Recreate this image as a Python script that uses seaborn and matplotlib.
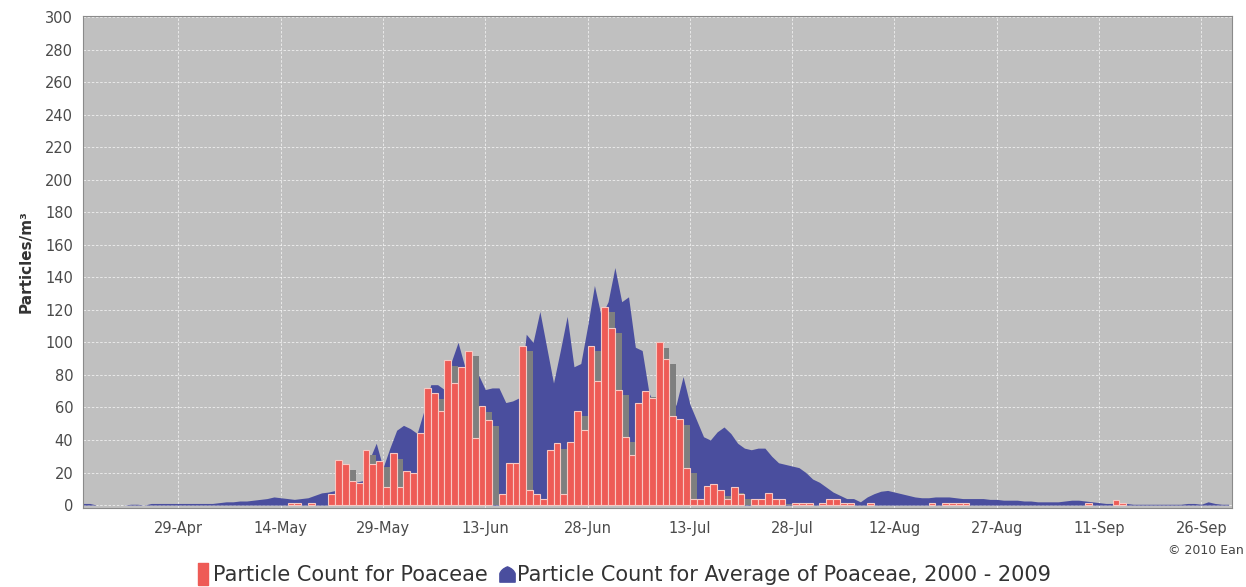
import numpy as np
import pandas as pd
import matplotlib
matplotlib.use("Agg")
import matplotlib.pyplot as plt
import seaborn as sns
from matplotlib.lines import Line2D
from matplotlib.path import Path

# day 0 = 15-Apr, one value per day
avg_counts = [
    1, 1, 0, 0, 0, 0, 0, 0.5, 0.5, 0,
    1, 1, 1, 1, 1, 1, 1, 1, 1, 1,
    1.5, 2, 2, 2.5, 2.5, 3, 3.5, 4, 5, 4.5,
    4, 3.5, 4, 4.5, 6, 7.5, 8, 9, 10, 12,
    14, 15, 28, 38, 23, 35, 46, 49, 47, 44,
    58, 74, 74, 71, 88, 100, 85, 93, 80, 71,
    72, 72, 63, 64, 66, 105, 100, 119, 97, 75,
    95, 116, 85, 87, 110, 135, 116, 125, 146, 125,
    128, 97, 95, 69, 60, 58, 54, 62, 79, 62,
    52, 42, 40, 45, 48, 44, 38, 35, 34, 35,
    35, 30, 26, 25, 24, 23, 20, 16, 14, 11,
    8, 6, 4, 4, 2, 5, 7, 8.5, 9, 8,
    7, 6, 5, 4.5, 4.5, 5, 5, 5, 4.5, 4,
    4, 4, 4, 3.5, 3.5, 3, 3, 3, 2.5, 2.5,
    2, 2, 2, 2, 2.5, 3, 3, 2.5, 2, 1.5,
    1, 1, 1, 1, 0.5, 0.5, 0.5, 0.5, 0.5, 0.5,
    0.5, 0.5, 1, 1, 0.5, 2, 1, 0.5, 0.5,
]

daily_counts = {
    30: 1, 31: 1, 33: 1.5,
    36: 7, 37: 28, 38: 25, 39: 15, 40: 13.5, 41: 34, 42: 25, 43: 27, 44: 11,
    45: 32, 46: 11, 47: 21, 48: 20, 49: 44, 50: 72, 51: 69, 52: 58, 53: 89,
    54: 75, 55: 85, 56: 95, 57: 41, 58: 61, 59: 52, 61: 7, 62: 26, 63: 26,
    64: 98, 65: 9, 66: 7, 67: 4, 68: 34, 69: 38, 70: 7, 71: 39, 72: 58,
    73: 46, 74: 98, 75: 76, 76: 122, 77: 109, 78: 71, 79: 42, 80: 31, 81: 63,
    82: 70, 83: 66, 84: 100, 85: 90, 86: 55, 87: 53, 88: 23, 89: 4, 90: 4,
    91: 12, 92: 13, 93: 9, 94: 4, 95: 11, 96: 7, 98: 4, 99: 4, 100: 7.5,
    101: 4, 102: 4, 104: 1.5, 105: 1.5, 106: 1.5, 108: 1.5, 109: 4, 110: 4,
    111: 1.5, 112: 1.5, 115: 1.5, 124: 1, 126: 1.5, 127: 1.5, 128: 1.5,
    129: 1.5, 147: 1, 151: 3, 152: 1,
}

tick_days = [14, 29, 44, 59, 74, 89, 104, 119, 134, 149, 164]
tick_labels = ["29-Apr", "14-May", "29-May", "13-Jun", "28-Jun", "13-Jul",
               "28-Jul", "12-Aug", "27-Aug", "11-Sep", "26-Sep"]

RED = "#EE5B56"
BLUE = "#4A4E9E"
SIDE = "#7E7F7F"

df_avg = pd.DataFrame({"day": np.arange(len(avg_counts)), "count": avg_counts})
df_day = pd.DataFrame({"day": list(daily_counts.keys()), "count": list(daily_counts.values())})
df_day["center"] = df_day["day"] + 0.5
# 3D side face of each bar, seen in the slot to its right
df_side = df_day.copy()
df_side["center"] = df_day["center"] + 1
df_side["count"] = (df_day["count"] - 3.5).clip(lower=0)

sns.set_style("white")
plt.rcParams["font.family"] = ["DejaVu Sans"]

fig = plt.figure(figsize=(12.46, 5.87), dpi=100)
ax = fig.add_axes([83 / 1246, 1 - 508 / 587, (1232 - 83) / 1246, (508 - 16) / 587])
ax.set_facecolor("#C0C0C0")

ax.fill_between(df_avg["day"], df_avg["count"], 0, color=BLUE, lw=0, zorder=1)
sns.barplot(data=df_side, x="center", y="count", native_scale=True, width=1,
            color=SIDE, saturation=1, linewidth=0, ax=ax, zorder=2)
sns.barplot(data=df_day, x="center", y="count", native_scale=True, width=1,
            color=RED, saturation=1, edgecolor="#F7C9C4", linewidth=0.8, ax=ax, zorder=3)

ax.set_xlim(0, 168.5)
ax.set_ylim(-1.8, 300.6)
ax.set_yticks(range(0, 301, 20))
ax.set_xticks(tick_days)
ax.set_xticklabels(tick_labels)
ax.tick_params(axis="both", labelsize=10.5, colors="#4A4A4A", length=3, width=0.6)
ax.tick_params(axis="x", pad=6)
ax.tick_params(axis="y", pad=4)
ax.grid(True, color="white", linestyle=(0, (3, 2)), linewidth=0.6, alpha=0.75)
ax.set_axisbelow(True)
for s in ax.spines.values():
    s.set_color("#8A8A8A")
    s.set_linewidth(0.8)
ax.set_xlabel("")
ax.set_ylabel("Particles/m³", fontsize=11, fontweight="bold", color="#333333", labelpad=8)

fig.text(1244 / 1246, 1 - 551 / 587, "© 2010 Ean", ha="right", va="center",
         fontsize=9, color="#444444")

bell = Path([(-1, -1), (-1, 0.1), (-0.8, 0.7), (0, 1), (0.8, 0.7), (1, 0.1), (1, -1), (-1, -1)],
            [Path.MOVETO, Path.LINETO, Path.CURVE3, Path.CURVE3, Path.CURVE3, Path.CURVE3,
             Path.LINETO, Path.CLOSEPOLY])
bar_mark = Path([(-0.45, -1), (-0.45, 1), (0.45, 1), (0.45, -1), (-0.45, -1)])
handles = [
    Line2D([], [], marker=bar_mark, color=RED, linestyle="", markersize=16),
    Line2D([], [], marker=bell, color=BLUE, linestyle="", markersize=11),
]
fig.legend(handles, ["Particle Count for Poaceae", "Particle Count for Average of Poaceae, 2000 - 2009"],
           loc="center", bbox_to_anchor=(0.5, 1 - 575 / 587), ncol=2, frameon=False,
           prop={"family": "DejaVu Sans", "size": 15}, handletextpad=0.1,
           columnspacing=0.5, handlelength=0.8, labelcolor="#333333")

fig.savefig("out.png", dpi=100)
